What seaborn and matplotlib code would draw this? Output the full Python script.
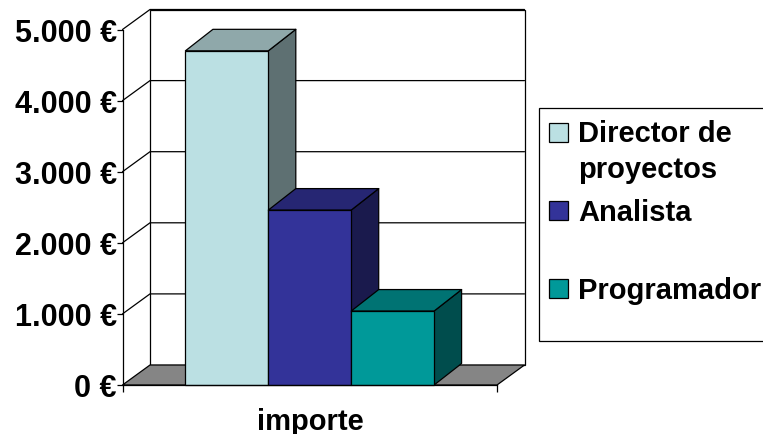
import matplotlib
matplotlib.use("Agg")
import matplotlib.pyplot as plt
from matplotlib.patches import Polygon, Rectangle
import pandas as pd
import seaborn as sns

# Chart content
category = ["importe"]
roles = ["Director de proyectos", "Analista", "Programador"]
amounts = [4700, 2460, 1040]
y_ticks = [0, 1000, 2000, 3000, 4000, 5000]
y_tick_labels = ["0 €", "1.000 €", "2.000 €", "3.000 €", "4.000 €", "5.000 €"]

# Front, top and side shades for each role
front_colors = ["#BBE0E3", "#333399", "#009999"]
top_colors = ["#8FA8AA", "#262673", "#007373"]
side_colors = ["#5E7072", "#1A1A4D", "#004D4D"]
floor_color = "#858585"

W, H = 763, 435
FONT = "Liberation Sans"
SIZE = 21
TICK_SIZE = 22
LW = 0.9

sns.set_theme(style="white", rc={"font.family": FONT, "font.weight": "bold"})

fig = plt.figure(figsize=(W / 100, H / 100), dpi=100, facecolor="white")

# Front plane of the box, placed in pixels
left, right, top, bottom = 122.5, 497, 30.5, 386
ax = fig.add_axes([left / W, 1 - bottom / H, (right - left) / W, (bottom - top) / H])
ax.patch.set_alpha(0)

df = pd.DataFrame({"grupo": category * 3, "rol": roles, "importe": amounts})
sns.barplot(
    data=df, x="grupo", y="importe", hue="rol", hue_order=roles,
    palette=front_colors, saturation=1, width=0.664, gap=0, dodge=True,
    edgecolor="black", linewidth=LW, legend=False, ax=ax,
)
ax.set_xlim(-0.5, 0.5)
ax.set_ylim(0, 5000)

# Depth of the walls and of the bars, expressed in data units
dx = 27.5 / (right - left)
dy = 20.0 / (bottom - top) * 5000
bar_dy = 21.5 / (bottom - top) * 5000
x0, x1 = -0.5, 0.5

def face(points, color, z, lw=LW):
    ax.add_patch(Polygon(points, closed=True, facecolor=color, edgecolor="black",
                         linewidth=lw, zorder=z, clip_on=False, joinstyle="round"))

# Floor and the back and left walls
face([(x0, 0), (x0 + dx, dy), (x1 + dx, dy), (x1, 0)], floor_color, 1)
ax.add_patch(Rectangle((x0 + dx, dy), x1 - x0, 5000, facecolor="white", edgecolor="black",
                       linewidth=LW, zorder=0.5, clip_on=False))
for v in y_ticks[1:]:
    ax.plot([x0, x0 + dx, x1 + dx], [v, v + dy, v + dy], color="black",
            linewidth=LW, zorder=1, clip_on=False)

# Side and top of every bar, stacked so the next bar overlaps the previous one
for i, bar in enumerate(ax.patches[:len(roles)]):
    bx0, bx1 = bar.get_x(), bar.get_x() + bar.get_width()
    h = bar.get_height()
    z = 3 + i
    face([(bx1, 0), (bx1 + dx, bar_dy), (bx1 + dx, h + bar_dy), (bx1, h)], side_colors[i], z)
    face([(bx0, h), (bx0 + dx, h + bar_dy), (bx1 + dx, h + bar_dy), (bx1, h)], top_colors[i], z)
    bar.set_zorder(z + 0.5)
    bar.set_clip_on(False)

# Axes
for name in ("top", "right"):
    ax.spines[name].set_visible(False)
for name in ("left", "bottom"):
    ax.spines[name].set_linewidth(LW)
    ax.spines[name].set_color("black")
    ax.spines[name].set_zorder(8)

ax.set_yticks(y_ticks, y_tick_labels, fontsize=TICK_SIZE, fontweight="bold", color="black",
              fontfamily=FONT)
ax.set_xticks([x0, x1], ["", ""])
ax.tick_params(axis="y", left=True, length=4.0, width=LW, color="black", pad=0)
ax.tick_params(axis="x", bottom=True, length=5, width=LW, color="black")
ax.set_xlabel("")
ax.set_ylabel("")

px = lambda x: x / W
py = lambda y: 1 - y / H

fig.text(px(310), py(422), "importe", ha="center", va="center", fontsize=SIZE,
         fontweight="bold", fontfamily=FONT, color="black")

# Legend panel, running off the right edge
fig.add_artist(Rectangle((px(539), py(342)), px(240), (342 - 109) / H, transform=fig.transFigure,
                         facecolor="white", edgecolor="black", linewidth=LW, clip_on=True))
legend_rows = [
    ("Director de\nproyectos", 124, 134.5, 0),
    ("Analista", 202, 213, 1),
    ("Programador", 280, 291, 2),
]
for text, sq_top, text_y, idx in legend_rows:
    fig.add_artist(Rectangle((px(549), py(sq_top + 19)), 19 / W, 19 / H, transform=fig.transFigure,
                             facecolor=front_colors[idx], edgecolor="black", linewidth=LW))
    for n, line in enumerate(text.split("\n")):
        fig.text(px(578), py(text_y + n * 36), line, ha="left", va="center", fontsize=SIZE,
                 fontweight="bold", fontfamily=FONT, color="black")

fig.savefig("out.png", dpi=100, facecolor="white")
